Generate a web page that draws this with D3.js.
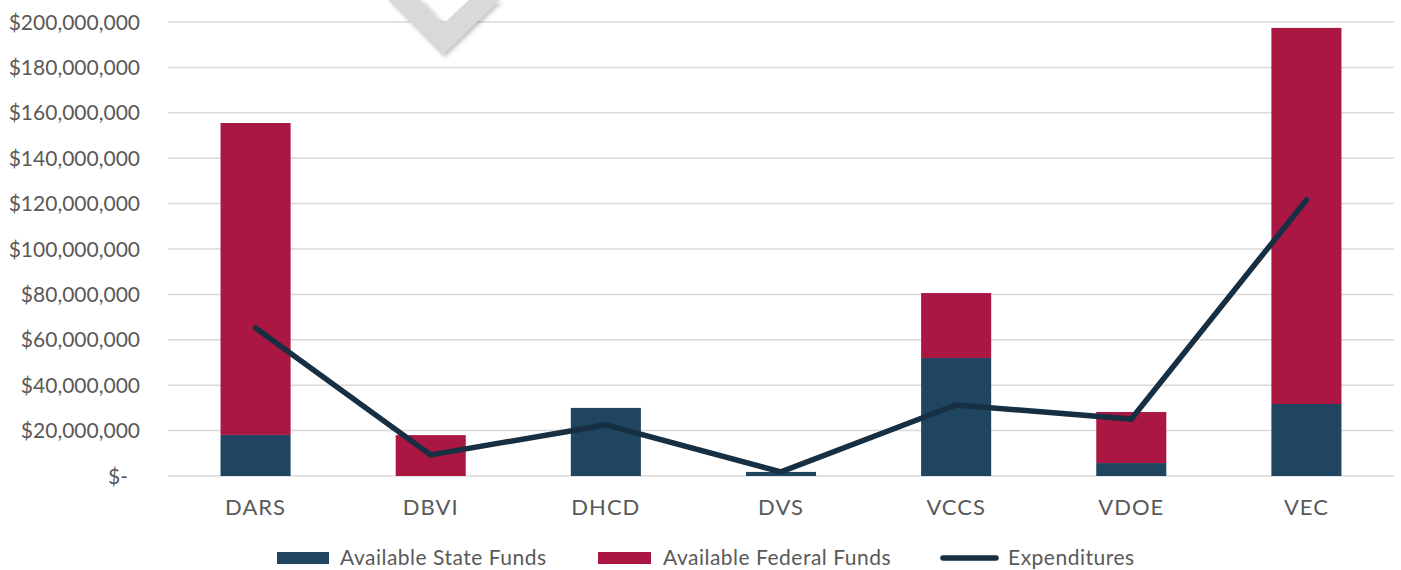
<!DOCTYPE html>
<html>
<head>
<meta charset="utf-8">
<script src="https://cdn.jsdelivr.net/npm/d3@7"></script>
<style>
  body { margin: 0; background: #fff; }
  svg text { font-family: Lato, "Open Sans", sans-serif; fill: #595959; }
</style>
</head>
<body>
<div id="chart"></div>
<script>
// chart data
const agencies = ["DARS", "DBVI", "DHCD", "DVS", "VCCS", "VDOE", "VEC"];
const stateFunds = [18.1, 0, 30.0, 1.8, 52.0, 5.7, 31.7];        // $ millions
const federalFunds = [137.4, 18.0, 0, 0, 28.6, 22.5, 165.7];     // $ millions
const expenditures = [65.2, 9.3, 22.5, 1.8, 31.3, 25.1, 121.6];  // $ millions
const yTicks = [0, 20, 40, 60, 80, 100, 120, 140, 160, 180, 200];
const legendLabels = ["Available State Funds", "Available Federal Funds", "Expenditures"];

const width = 1401;
const height = 570;
const stateColor = "#1f4560";
const fedColor = "#aa1743";
const lineColor = "#162f43";

const svg = d3.select("#chart")
    .append("svg")
    .attr("width", width)
    .attr("height", height);

const x = d3.scaleBand()
    .domain(agencies)
    .range([168, 1394])
    .paddingInner(0.6)
    .paddingOuter(0.3);

const y = d3.scaleLinear()
    .domain([0, 200])
    .range([476, 22]);

// gridlines
svg.append("g")
    .selectAll("line")
    .data(yTicks)
    .enter()
    .append("line")
    .attr("x1", 168)
    .attr("x2", 1394)
    .attr("y1", d => y(d))
    .attr("y2", d => y(d))
    .attr("stroke", "#d9d9d9")
    .attr("stroke-width", 1.5);

// y axis labels (accounting style)
const fmt = d => d === 0 ? "$-" : "$" + d3.format(",")(d * 1e6);
svg.append("g")
    .selectAll("text")
    .data(yTicks)
    .enter()
    .append("text")
    .attr("x", d => d === 0 ? 128 : 140)
    .attr("y", d => y(d))
    .attr("dy", "0.36em")
    .attr("text-anchor", "end")
    .style("font-size", "21px")
    .text(fmt);

// stacked bars
const stacked = agencies.map((a, i) => ({ agency: a, state: stateFunds[i], federal: federalFunds[i] }));
const series = d3.stack().keys(["state", "federal"])(stacked);
const colors = { state: stateColor, federal: fedColor };

svg.append("g")
    .selectAll("g")
    .data(series)
    .enter()
    .append("g")
    .attr("fill", d => colors[d.key])
    .selectAll("rect")
    .data(d => d)
    .enter()
    .append("rect")
    .attr("x", d => x(d.data.agency))
    .attr("y", d => y(d[1]))
    .attr("width", x.bandwidth())
    .attr("height", d => y(d[0]) - y(d[1]));

// category labels
svg.append("g")
    .selectAll("text")
    .data(agencies)
    .enter()
    .append("text")
    .attr("x", d => x(d) + x.bandwidth() / 2)
    .attr("y", 515)
    .attr("text-anchor", "middle")
    .style("font-size", "22px")
    .style("letter-spacing", "1px")
    .text(d => d);

// expenditures line
const line = d3.line()
    .x((d, i) => x(agencies[i]) + x.bandwidth() / 2)
    .y(d => y(d));

svg.append("path")
    .datum(expenditures)
    .attr("d", line)
    .attr("fill", "none")
    .attr("stroke", lineColor)
    .attr("stroke-width", 5.5)
    .attr("stroke-linejoin", "miter")
    .attr("stroke-linecap", "round");

// grey chevron watermark at the top
const defs = svg.append("defs");
const shadow = defs.append("filter").attr("id", "shadow")
    .attr("x", "-20%").attr("y", "-20%").attr("width", "140%").attr("height", "140%");
shadow.append("feDropShadow")
    .attr("dx", 3).attr("dy", 2).attr("stdDeviation", 2)
    .attr("flood-color", "#000").attr("flood-opacity", 0.25);

svg.append("path")
    .attr("d", "M388,0 L442,55 L499,0 L469,0 L443,24 L420,0 Z")
    .attr("fill", "#d9d9d9")
    .attr("filter", "url(#shadow)");

// legend
const legend = svg.append("g");
legend.append("rect").attr("x", 277).attr("y", 552).attr("width", 52).attr("height", 12).attr("fill", stateColor);
legend.append("text").attr("x", 340).attr("y", 565).style("font-size", "21px").style("letter-spacing", "0.5px").text(legendLabels[0]);
legend.append("rect").attr("x", 598).attr("y", 552).attr("width", 53).attr("height", 12).attr("fill", fedColor);
legend.append("text").attr("x", 663).attr("y", 565).style("font-size", "21px").style("letter-spacing", "0.5px").text(legendLabels[1]);
legend.append("line").attr("x1", 943).attr("x2", 996).attr("y1", 558).attr("y2", 558)
    .attr("stroke", lineColor).attr("stroke-width", 5.5).attr("stroke-linecap", "round");
legend.append("text").attr("x", 1008).attr("y", 565).style("font-size", "21px").style("letter-spacing", "0.5px").text(legendLabels[2]);
</script>
</body>
</html>
